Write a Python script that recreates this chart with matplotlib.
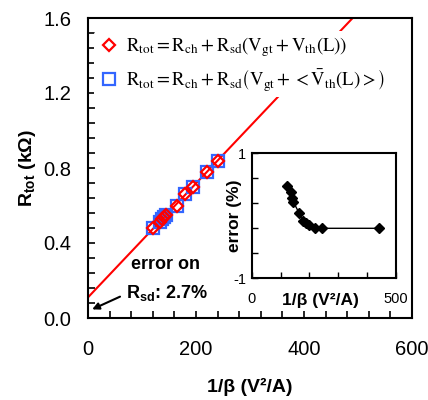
import matplotlib
matplotlib.use("Agg")
import matplotlib.pyplot as plt
from matplotlib.font_manager import FontProperties
from matplotlib.lines import Line2D

plt.rcParams['font.family'] = ['Liberation Sans', 'DejaVu Sans']
plt.rcParams['mathtext.fontset'] = 'custom'
plt.rcParams['mathtext.rm'] = 'Liberation Sans'
plt.rcParams['mathtext.it'] = 'Liberation Sans:italic'
plt.rcParams['mathtext.bf'] = 'Liberation Sans:bold'
plt.rcParams['mathtext.sf'] = 'Liberation Sans'

# ---- data ----
inv_beta = [121, 133, 137, 140, 145, 164, 180, 195, 221, 240]
r_tot_vth = [0.48, 0.51, 0.53, 0.54, 0.55, 0.60, 0.66, 0.70, 0.78, 0.84]
r_tot_mean = [0.48, 0.51, 0.53, 0.54, 0.55, 0.60, 0.66, 0.70, 0.78, 0.84]
fit_x = [0, 600]
fit_y = [0.11, 1.934]

inset_x = [121, 137, 139, 145, 165, 177, 188, 198, 221, 243, 442]
inset_err = [0.48, 0.38, 0.29, 0.22, 0.04, -0.08, -0.11, -0.15, -0.20, -0.20, -0.20]

main_xticks = [0, 200, 400, 600]
main_yticks = [0.0, 0.4, 0.8, 1.2, 1.6]
inset_xticks = [0, 100, 200, 300, 400, 500]
inset_xticklabels = ['0', '', '', '', '', '500']
inset_yticks = [-1, -0.6, -0.2, 0.2, 0.6, 1]
inset_yticklabels = ['-1', '', '', '', '', '1']

fig = plt.figure(figsize=(4.28, 4.00), dpi=100)
ax = fig.add_axes([88/428, 82/400, 324/428, 300/400])

ax.plot(fit_x, fit_y, color='#FF0000', lw=1.5, zorder=2)
ax.plot(inv_beta, r_tot_mean, ls='none', marker='s', ms=9, mfc='none',
        mec='#3366FF', mew=1.6, zorder=3)
ax.plot(inv_beta, r_tot_vth, ls='none', marker='D', ms=6.5, mfc='none',
        mec='#FF0000', mew=1.6, zorder=4)

ax.set_xlim(0, 600)
ax.set_ylim(0, 1.6)
ax.set_xticks(main_xticks)
ax.set_xticks([i * 40 for i in range(16)], minor=True)
ax.set_yticks(main_yticks)
ax.set_yticklabels(['%.1f' % v for v in main_yticks])
ax.set_yticks([i * 0.08 for i in range(21)], minor=True)
ax.tick_params(which='both', direction='in', length=5, width=1.2,
               labelsize=14.5, top=False, right=False)
ax.tick_params(axis='x', pad=16)
ax.tick_params(axis='y', pad=12)
for s in ax.spines.values():
    s.set_linewidth(1.5)

ax.set_xlabel('1/β (V²/A)', fontsize=14, fontweight='bold')
ax.xaxis.set_label_coords(0.5, -0.2)
ax.set_ylabel(r'R$_{\mathbf{tot}}$ (kΩ)', fontsize=14, fontweight='bold')
ax.yaxis.set_label_coords(-0.155, 0.5)

# legend
leg_font = FontProperties(family='Liberation Serif', size=13.5, math_fontfamily='stix')
h1 = Line2D([], [], ls='none', marker='D', ms=6.5, mfc='none', mec='#FF0000', mew=1.6)
h2 = Line2D([], [], ls='none', marker='s', ms=8.5, mfc='none', mec='#3366FF', mew=1.6)
lab1 = (r'$\mathrm{R_{tot}}=\mathrm{R_{ch}}+\mathrm{R_{sd}}'
        r'\left(\mathrm{V_{gt}}+\mathrm{V_{th}(L)}\right)$')
lab2 = (r'$\mathrm{R_{tot}}=\mathrm{R_{ch}}+\mathrm{R_{sd}}'
        r'\left(\mathrm{V_{gt}}+<\bar{\mathrm{V}}_{\mathrm{th}}\mathrm{(L)}>\right)$')
leg = ax.legend([h1, h2], [lab1, lab2], prop=leg_font, loc='upper left',
                bbox_to_anchor=(0.0, 0.975), frameon=True, framealpha=1,
                facecolor='white', edgecolor='none', handletextpad=0.35,
                handlelength=1.2, borderpad=0.2, labelspacing=0.45,
                borderaxespad=0.3)
leg.set_zorder(5)

# annotation
ax.text(80, 0.285, 'error on', fontsize=13, fontweight='bold', ha='left', va='center')
ax.text(70, 0.135, r'R$_{\mathbf{sd}}$: 2.7%', fontsize=13, fontweight='bold',
        ha='left', va='center')
ax.annotate('', xy=(3, 0.04), xytext=(64, 0.12),
            arrowprops=dict(arrowstyle='-|>', color='black', lw=1.5,
                            mutation_scale=10))

# inset
ins = fig.add_axes([251.7/428, (400-278.3)/400, 144/428, 125/400])
ins.plot(inset_x, inset_err, color='black', lw=1.0, marker='D', ms=5.5,
         mfc='black', mec='black')
ins.set_xlim(0, 500)
ins.set_ylim(-1, 1)
ins.set_xticks(inset_xticks)
ins.set_xticklabels(inset_xticklabels)
ins.set_yticks(inset_yticks)
ins.set_yticklabels(inset_yticklabels)
ins.tick_params(which='both', direction='in', length=4, width=1.0,
                labelsize=10.5, top=False, right=False)
ins.tick_params(axis='x', pad=10)
ins.tick_params(axis='y', pad=4)
for s in ins.spines.values():
    s.set_linewidth(1.5)
ins.set_xlabel('1/β (V²/A)', fontsize=12.5, fontweight='bold')
ins.xaxis.set_label_coords(0.48, -0.12)
ins.set_ylabel('error (%)', fontsize=12.5, fontweight='bold')
ins.yaxis.set_label_coords(-0.07, 0.5)

fig.savefig('out.png', dpi=100)
